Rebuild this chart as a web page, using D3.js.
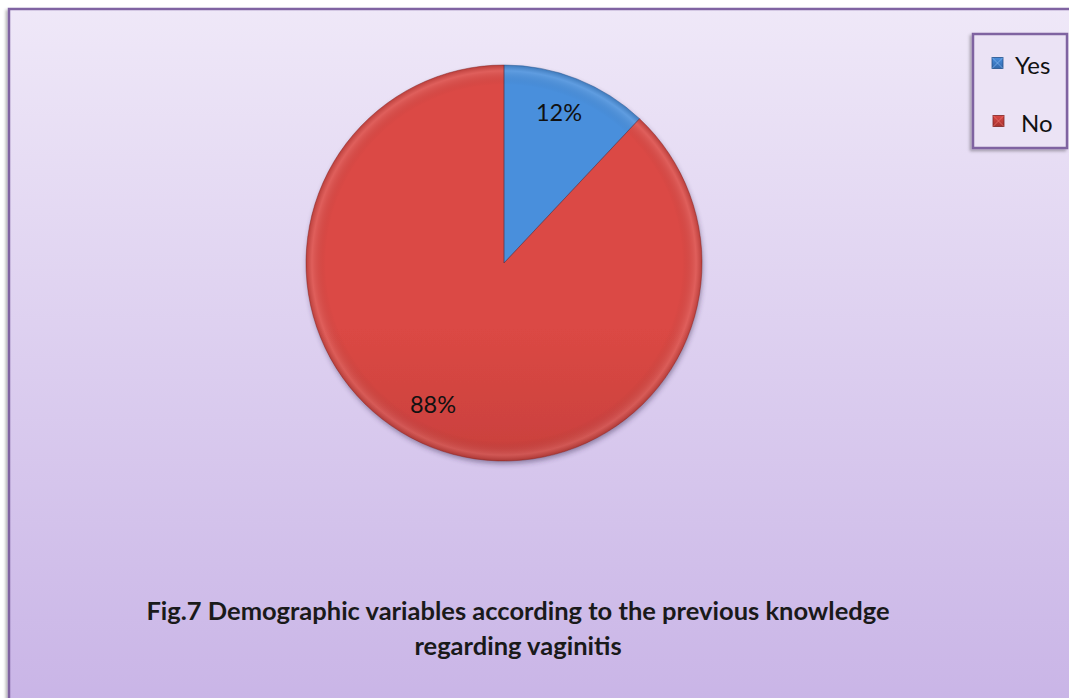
<!DOCTYPE html>
<html>
<head>
<meta charset="utf-8">
<script src="https://cdn.jsdelivr.net/npm/d3@7"></script>
<style>
	body { margin: 0; background: #fff; }
	svg text { font-family: Lato, "Open Sans", sans-serif; }
</style>
</head>
<body>
<div id="chart"></div>
<script>
// Data
var categories = ['Yes', 'No'];
var shares = [12, 88];
var labels = ['12%', '88%'];
var titleLines = ['Fig.7 Demographic variables according to the previous knowledge', 'regarding vaginitis'];

// Config
var width = 1069, height = 698;
var cx = 504, cy = 263, radius = 198;
var sliceColors = {
	Yes: { top: '#4a8fdc', bottom: '#3269ad', dark: '#24528a', light: '#8cbdf2' },
	No: { top: '#db4844', bottom: '#a5322f', dark: '#7e2523', light: '#ef7a74' }
};

var svg = d3.select('#chart').append('svg')
	.attr('width', width)
	.attr('height', height);

var defs = svg.append('defs');

var bg = defs.append('linearGradient').attr('id', 'bg')
	.attr('x1', 0).attr('y1', 0).attr('x2', 0).attr('y2', 1);
bg.append('stop').attr('offset', 0).attr('stop-color', '#efe8f8');
bg.append('stop').attr('offset', 1).attr('stop-color', '#c8b3e6');

categories.forEach(c => {
	let g = defs.append('linearGradient').attr('id', 'fill-' + c)
		.attr('gradientUnits', 'userSpaceOnUse')
		.attr('x1', 0).attr('y1', cy - radius).attr('x2', 0).attr('y2', cy + radius);
	g.append('stop').attr('offset', 0).attr('stop-color', sliceColors[c].top);
	g.append('stop').attr('offset', 1).attr('stop-color', sliceColors[c].bottom);

	let m = defs.append('linearGradient').attr('id', 'mark-' + c)
		.attr('x1', 0).attr('y1', 0).attr('x2', 0).attr('y2', 1);
	m.append('stop').attr('offset', 0).attr('stop-color', sliceColors[c].top);
	m.append('stop').attr('offset', 1).attr('stop-color', sliceColors[c].bottom);
});

// darkening towards the rim, for a slight dome look
var rim = defs.append('radialGradient').attr('id', 'rim')
	.attr('gradientUnits', 'userSpaceOnUse')
	.attr('cx', 0).attr('cy', 0).attr('r', radius);
rim.append('stop').attr('offset', 0.9).attr('stop-color', '#000').attr('stop-opacity', 0);
rim.append('stop').attr('offset', 0.97).attr('stop-color', '#fff').attr('stop-opacity', 0.12);
rim.append('stop').attr('offset', 1).attr('stop-color', '#000').attr('stop-opacity', 0.15);

var shadow = defs.append('filter').attr('id', 'shadow')
	.attr('x', '-20%').attr('y', '-20%').attr('width', '140%').attr('height', '140%');
shadow.append('feDropShadow').attr('dx', 1).attr('dy', 3).attr('stdDeviation', 2.5)
	.attr('flood-color', '#3a2a55').attr('flood-opacity', 0.45);

var boxShadow = defs.append('filter').attr('id', 'boxshadow')
	.attr('x', '-10%').attr('y', '-10%').attr('width', '120%').attr('height', '120%');
boxShadow.append('feDropShadow').attr('dx', -2).attr('dy', 2).attr('stdDeviation', 1.5)
	.attr('flood-color', '#000').attr('flood-opacity', 0.3);

// Background and outer border (right and bottom edges run off the picture)
svg.append('rect')
	.attr('x', 9).attr('y', 9).attr('width', width + 20).attr('height', height + 20)
	.attr('fill', 'url(#bg)')
	.attr('stroke', '#8064a2').attr('stroke-width', 2.5)
	.attr('filter', 'url(#boxshadow)');

// Pie
var pie = d3.pie().sort(null).value(d => d.value);
var slices = pie(categories.map((c, i) => ({ name: c, value: shares[i], label: labels[i] })));
var arc = d3.arc().innerRadius(0).outerRadius(radius);

var pieG = svg.append('g').attr('transform', `translate(${cx},${cy})`);

pieG.append('g').attr('filter', 'url(#shadow)')
	.selectAll('path').data(slices).enter().append('path')
	.attr('d', arc)
	.attr('fill', d => `url(#fill-${d.data.name})`);

pieG.selectAll('.rim').data(slices).enter().append('path')
	.attr('class', 'rim')
	.attr('d', arc)
	.attr('fill', 'url(#rim)');

pieG.selectAll('.edge').data(slices).enter().append('path')
	.attr('class', 'edge')
	.attr('d', arc)
	.attr('fill', 'none')
	.attr('stroke', d => sliceColors[d.data.name].dark)
	.attr('stroke-opacity', 0.45)
	.attr('stroke-width', 1);

var labelPos = { Yes: [55, -151], No: [-71, 141] };
pieG.selectAll('.lbl').data(slices).enter().append('text')
	.attr('class', 'lbl')
	.attr('x', d => labelPos[d.data.name][0])
	.attr('y', d => labelPos[d.data.name][1])
	.attr('text-anchor', 'middle')
	.attr('dominant-baseline', 'central')
	.attr('font-size', 23.5)
	.attr('fill', '#111')
	.text(d => d.data.label);

// Legend
var legend = svg.append('g').attr('transform', 'translate(973,34)');
legend.append('rect')
	.attr('width', 94).attr('height', 114)
	.attr('fill', '#ebe3f5')
	.attr('stroke', '#7f63a1').attr('stroke-width', 2.5)
	.attr('filter', 'url(#boxshadow)');

var legendScale = d3.scalePoint().domain(categories).range([29, 87]);
var items = legend.selectAll('.item').data(categories).enter().append('g')
	.attr('class', 'item')
	.attr('transform', d => `translate(${d === 'No' ? 20 : 19},${legendScale(d)})`);
items.append('rect')
	.attr('x', 0).attr('y', -5.5).attr('width', 11).attr('height', 11)
	.attr('fill', d => `url(#mark-${d})`)
	.attr('stroke', d => sliceColors[d].dark).attr('stroke-width', 0.8);
items.append('path')
	.attr('d', 'M0,-5.5L5.5,0L11,-5.5M0,5.5L5.5,0L11,5.5')
	.attr('fill', 'none')
	.attr('stroke', d => sliceColors[d].light).attr('stroke-width', 0.8).attr('opacity', 0.8);
items.append('text')
	.attr('x', d => d === 'No' ? 28 : 23)
	.attr('y', 1)
	.attr('dominant-baseline', 'central')
	.attr('font-size', 24)
	.attr('fill', '#111')
	.text(d => d);

// Title
svg.append('text')
	.attr('x', 518).attr('y', 612)
	.attr('text-anchor', 'middle')
	.attr('font-size', 25.5)
	.attr('font-weight', 'bold')
	.attr('fill', '#1a1a1a')
	.selectAll('tspan').data(titleLines).enter().append('tspan')
	.attr('x', 518)
	.attr('dy', (d, i) => i === 0 ? 8 : 35)
	.text(d => d);
</script>
</body>
</html>
